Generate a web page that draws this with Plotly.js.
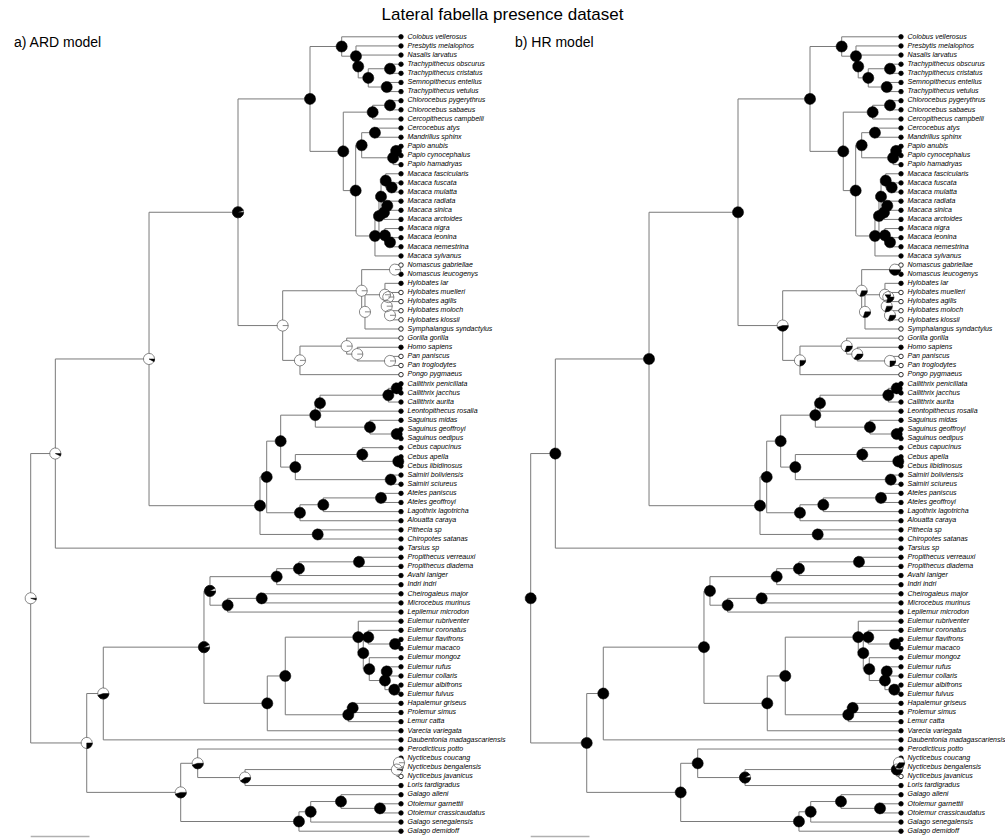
<!DOCTYPE html>
<html><head><meta charset="utf-8">
<script src="https://cdn.plot.ly/plotly-3.0.1.min.js"></script>
<style>html,body{margin:0;padding:0;background:#fff;}#chart{width:1005px;height:838px;}</style>
</head><body><div id="chart"></div>
<script>
// ---------------- DATA ----------------
const chartTitle = "Lateral fabella presence dataset";
const panelTitles = ["a) ARD model", "b) HR model"];

// Tree topology (Newick, internal node labels)
const cladeColobinae = "(Colobus_vellerosus,(Presbytis_melalophos,(Nasalis_larvatus,((Trachypithecus_obscurus,Trachypithecus_cristatus)TrOC,(Semnopithecus_entellus,Trachypithecus_vetulus)SeTV)Col4)Col3)Col2)Colob";
const cladeCercopithecini = "((Chlorocebus_pygerythrus,Chlorocebus_sabaeus)Chloro,Cercopithecus_campbelli)Cercini";
const cladePapionina = "((Cercocebus_atys,Mandrillus_sphinx)CeMa,((Papio_anubis,Papio_cynocephalus)PapAC,Papio_hamadryas)PapioR)Papina";
const cladeMacaca = "((((Macaca_fascicularis,(Macaca_fuscata,Macaca_mulatta)MacFM)MacF,((Macaca_radiata,Macaca_sinica)MacRS,Macaca_arctoides)MacRSA)MacU,(Macaca_nigra,(Macaca_leonina,Macaca_nemestrina)MacLN)MacL)Mac2,Macaca_sylvanus)Mac";
const cladeHominoidea = "(((Nomascus_gabriellae,Nomascus_leucogenys)Nomas,((Hylobates_lar,((Hylobates_muelleri,Hylobates_agilis)HylMA,(Hylobates_moloch,Hylobates_klossii)HylMK)HylX)HylR,Symphalangus_syndactylus)HylSy)Hylob,((Gorilla_gorilla,(Homo_sapiens,(Pan_paniscus,Pan_troglodytes)Pan)HoPa)Homnin,Pongo_pygmaeus)Hominid)Homoid";
const cladeCallCebus = "(((((Callithrix_penicillata,Callithrix_jacchus)CaPJ,Callithrix_aurita)Callx,Leontopithecus_rosalia)CalLe,(Saguinus_midas,(Saguinus_geoffroyi,Saguinus_oedipus)SaGO)Sagu)Calli,((Cebus_capucinus,(Cebus_apella,Cebus_libidinosus)CeAL)Cebus,(Saimiri_boliviensis,Saimiri_sciureus)Saim)Cebid)Callceb";
const cladeAtelidae = "(((Ateles_paniscus,Ateles_geoffroyi)Ateles,Lagothrix_lagotricha)AtLa,Alouatta_caraya)Atel";
const cladeIndriCheiro = "((((Propithecus_verreauxi,Propithecus_diadema)Prop,Avahi_laniger)PrAv,Indri_indri)Indr,((Cheirogaleus_major,Microcebus_murinus)Cheir,Lepilemur_microdon)ChLe)Lem3";
const cladeLemuridae = "(((Eulemur_rubriventer,((Eulemur_coronatus,(Eulemur_flavifrons,Eulemur_macaco)EuFM)Eul3,(Eulemur_mongoz,((Eulemur_rufus,Eulemur_collaris)EuRC,(Eulemur_albifrons,Eulemur_fulvus)EuAF)Eul5)Eul4)Eul2)Eul,((Hapalemur_griseus,Prolemur_simus)HaPr,Lemur_catta)LeHP)Lemid,Varecia_variegata)LeVa";
const cladeLorisiformes = "((Perodicticus_potto,(((Nycticebus_coucang,Nycticebus_bengalensis)NyCB,Nycticebus_javanicus)Nyct,Loris_tardigradus)NyLo)Lorid,(((Galago_alleni,(Otolemur_garnettii,Otolemur_crassicaudatus)Otol)Gal3,Galago_senegalensis)Gal2,Galago_demidoff)Galag)Loris";

const newick = "(((((" + cladeColobinae + ",(" + cladeCercopithecini + ",(" + cladePapionina + "," + cladeMacaca + ")Papini)Cercin)Cerco," +
  cladeHominoidea + ")Catar,((" + cladeCallCebus + "," + cladeAtelidae + ")Plat2,(Pithecia_sp,Chiropotes_satanas)Pith)Platy)Anthro,Tarsius_sp)Haplo," +
  "(((" + cladeIndriCheiro + "," + cladeLemuridae + ")Lem2,Daubentonia_madagascariensis)Lemf," + cladeLorisiformes + ")Strep)root;";

// Tips (top to bottom) and observed state (1 = present, 0 = absent)
const tipNames = ["Colobus vellerosus","Presbytis melalophos","Nasalis larvatus","Trachypithecus obscurus","Trachypithecus cristatus","Semnopithecus entellus","Trachypithecus vetulus","Chlorocebus pygerythrus","Chlorocebus sabaeus","Cercopithecus campbelli","Cercocebus atys","Mandrillus sphinx","Papio anubis","Papio cynocephalus","Papio hamadryas","Macaca fascicularis","Macaca fuscata","Macaca mulatta","Macaca radiata","Macaca sinica","Macaca arctoides","Macaca nigra","Macaca leonina","Macaca nemestrina","Macaca sylvanus","Nomascus gabriellae","Nomascus leucogenys","Hylobates lar","Hylobates muelleri","Hylobates agilis","Hylobates moloch","Hylobates klossii","Symphalangus syndactylus","Gorilla gorilla","Homo sapiens","Pan paniscus","Pan troglodytes","Pongo pygmaeus","Callithrix penicillata","Callithrix jacchus","Callithrix aurita","Leontopithecus rosalia","Saguinus midas","Saguinus geoffroyi","Saguinus oedipus","Cebus capucinus","Cebus apella","Cebus libidinosus","Saimiri boliviensis","Saimiri sciureus","Ateles paniscus","Ateles geoffroyi","Lagothrix lagotricha","Alouatta caraya","Pithecia sp","Chiropotes satanas","Tarsius sp","Propithecus verreauxi","Propithecus diadema","Avahi laniger","Indri indri","Cheirogaleus major","Microcebus murinus","Lepilemur microdon","Eulemur rubriventer","Eulemur coronatus","Eulemur flavifrons","Eulemur macaco","Eulemur mongoz","Eulemur rufus","Eulemur collaris","Eulemur albifrons","Eulemur fulvus","Hapalemur griseus","Prolemur simus","Lemur catta","Varecia variegata","Daubentonia madagascariensis","Perodicticus potto","Nycticebus coucang","Nycticebus bengalensis","Nycticebus javanicus","Loris tardigradus","Galago alleni","Otolemur garnettii","Otolemur crassicaudatus","Galago senegalensis","Galago demidoff"];
const tipState = [1,1,1,1,1,1,1,1,1,1,1,1,1,1,1,1,1,1,1,1,1,1,1,1,1,
  0,1,1,0,0,0,0,0,0,1,0,0,0,
  1,1,1,1,1,1,1,1,1,1,1,1,1,1,1,1,1,1,1,
  1,1,1,1,1,1,1,1,1,1,1,1,1,1,1,1,1,1,1,1,1,1,
  1,0,0,1,1,1,1,1,1,1];

// Internal nodes: depth from root (Myr) and probability of "absent" under each model
const treeHeight = 63;
const nodeLabels = ["root","Haplo","Anthro","Catar","Cerco","Colob","Col2","Col3","Col4","TrOC","SeTV","Cercin","Cercini","Chloro","Papini","Papina","CeMa","PapioR","PapAC","Mac","Mac2","MacU","MacF","MacFM","MacRSA","MacRS","MacL","MacLN","Homoid","Hylob","Nomas","HylSy","HylR","HylX","HylMA","HylMK","Hominid","Homnin","HoPa","Pan","Platy","Plat2","Callceb","Calli","CalLe","Callx","CaPJ","Sagu","SaGO","Cebid","Cebus","CeAL","Saim","Atel","AtLa","Ateles","Pith","Strep","Lemf","Lem2","Lem3","Indr","PrAv","Prop","ChLe","Cheir","LeVa","Lemid","Eul","Eul2","Eul3","EuFM","Eul4","Eul5","EuRC","EuAF","LeHP","HaPr","Loris","Lorid","NyLo","Nyct","NyCB","Galag","Gal2","Gal3","Otol"];
const nodeDepth = [0,4.19,20.13,35.27,47.52,52.91,55.34,55.72,57.43,61.13,60.57,53.18,58.18,61.13,55.29,56.31,58.57,61.66,62.17,58.57,59.25,59.6,60.4,61.42,60.1,60.67,60.27,61.13,42.87,56.31,61.98,56.87,60.27,60.57,60.84,61.13,45.81,53.76,55.56,61.13,39.01,40.15,42.53,48.42,49.22,60.84,62.27,57.72,62.27,45.02,56.41,62.54,61.25,45.81,49.78,59.6,48.83,9.53,12.35,29.48,30.5,41.85,45.64,55.85,33.51,39.3,40.25,43.31,55.73,56.58,57.43,61.98,57.6,60.27,60.57,61.86,54.03,54.78,25.52,28.41,36.46,62.3,62.66,45.64,47.64,52.79,59.43];
const ardAbsent = [0.95,0.93,0.92,0.05,0,0,0,0,0,0,0,0,0,0,0,0,0,0,0,0,0,0,0,0,0,0,0,0,1,1,1,1,1,1,1,1,1,1,1,1,0,0,0,0,0,0,0,0,0,0,0,0,0,0,0,0,0,0.75,0.55,0.07,0.08,0,0,0,0,0,0,0,0,0,0,0,0,0,0,0,0,0,0.55,0.55,0.6,0.97,1,0,0,0,0];
const hrAbsent  = [0,0,0,0,0,0,0,0,0,0,0,0,0,0,0,0,0,0,0,0,0,0,0,0,0,0,0,0,0.55,0.7,0.5,0.7,0.85,0.7,0.7,0.7,0.75,0.7,0.65,0.75,0,0,0,0,0,0,0,0,0,0,0,0,0,0,0,0,0,0,0,0,0,0,0,0,0,0,0,0,0,0,0,0,0,0,0,0,0,0,0,0,0.08,0.35,0.65,0,0,0,0];
const scaleBarLength = 10;

// ---------------- LAYOUT CONSTANTS ----------------
const W = 1005, H = 838;
const ROOT_PX = [30.7, 530.7], TIP_PX_LEFT = 401;
const TIP1_PX = 36.8, TIPN_PX = 831.2;
const PIE_R = 5.6;
const FONT = "Liberation Sans, Arial, Helvetica, sans-serif";
const LINE_COL = "#7a7a7a";

// ---------------- TREE ----------------
function parseNewick(s) {
  let i = 0;
  function node() {
    const n = {children: [], name: ""};
    if (s[i] === "(") {
      i++;
      n.children.push(node());
      while (s[i] === ",") { i++; n.children.push(node()); }
      i++;
    }
    let name = "";
    while (i < s.length && ",();".indexOf(s[i]) < 0) { name += s[i]; i++; }
    n.name = name.trim();
    return n;
  }
  return node();
}
const tree = parseNewick(newick);
const depthOf = {}, ardOf = {}, hrOf = {};
nodeLabels.forEach((l, i) => { depthOf[l] = nodeDepth[i]; ardOf[l] = ardAbsent[i]; hrOf[l] = hrAbsent[i]; });
const stateOf = {};
tipNames.forEach((n, i) => stateOf[n.replace(/ /g, "_")] = tipState[i]);

let tipIdx = 0;
const tips = [], internals = [];
(function lay(n) {
  if (!n.children.length) { tipIdx++; n.y = tipIdx; n.x = treeHeight; tips.push(n); return; }
  n.children.forEach(lay);
  n.x = depthOf[n.name];
  n.y = (n.children[0].y + n.children[n.children.length - 1].y) / 2;
  internals.push(n);
})(tree);

const segX = [], segY = [];
(function segs(n) {
  if (!n.children.length) return;
  segX.push(n.x, n.x, null); segY.push(n.children[0].y, n.children[n.children.length - 1].y, null);
  n.children.forEach(c => { segX.push(n.x, c.x, null); segY.push(c.y, c.y, null); segs(c); });
})(tree);

// scales
const kx = (TIP_PX_LEFT - ROOT_PX[0]) / treeHeight;
const ky = (TIPN_PX - TIP1_PX) / (tips.length - 1);
const rX = PIE_R / kx, rY = PIE_R / ky;
const yRange = [1 + (H - TIP1_PX) / ky, 1 - TIP1_PX / ky];

function arcPts(cx, cy, a0, a1, withCenter, xs, ys) {
  if (withCenter) { xs.push(cx); ys.push(cy); }
  const n = Math.max(2, Math.ceil((a1 - a0) / (2 * Math.PI) * 64));
  for (let k = 0; k <= n; k++) {
    const a = a0 + (a1 - a0) * k / n;
    xs.push(cx + rX * Math.cos(a)); ys.push(cy - rY * Math.sin(a));
  }
  xs.push(null); ys.push(null);
}

const traces = [];
const panels = [
  {xa: "x", ya: "y", probs: ardOf},
  {xa: "x2", ya: "y2", probs: hrOf}
];
panels.forEach(p => {
  traces.push({type: "scatter", mode: "lines", x: segX, y: segY, xaxis: p.xa, yaxis: p.ya,
    line: {color: LINE_COL, width: 1}, hoverinfo: "skip", showlegend: false, cliponaxis: false});
  // scale bar
  traces.push({type: "scatter", mode: "lines", x: [0, scaleBarLength], y: [1 + (H - 1.5 - TIP1_PX) / ky, 1 + (H - 1.5 - TIP1_PX) / ky],
    xaxis: p.xa, yaxis: p.ya, line: {color: "#b0b0b0", width: 1.5}, hoverinfo: "skip", showlegend: false, cliponaxis: false});
  // tips
  traces.push({type: "scatter", mode: "markers", x: tips.map(t => t.x), y: tips.map(t => t.y), xaxis: p.xa, yaxis: p.ya,
    marker: {size: 4.5, color: tips.map(t => stateOf[t.name] ? "#000" : "#fff"), line: {color: "#000", width: 0.8}},
    hoverinfo: "skip", showlegend: false, cliponaxis: false});
  traces.push({type: "scatter", mode: "text", x: tips.map(t => t.x + 6.5 / kx), y: tips.map(t => t.y), xaxis: p.xa, yaxis: p.ya,
    text: tips.map(t => t.name.replace(/_/g, " ")), textposition: "middle right",
    textfont: {family: FONT, size: 7, color: "#000", style: "italic"},
    hoverinfo: "skip", showlegend: false, cliponaxis: false});
  // pies
  const wx = [], wy = [], bx = [], by = [], lx = [], ly = [];
  internals.forEach(n => {
    const p0 = p.probs[n.name];
    if (p0 <= 0.001) { arcPts(n.x, n.y, 0, 2 * Math.PI, false, bx, by); return; }
    arcPts(n.x, n.y, 0, 2 * Math.PI, false, wx, wy);
    if (p0 >= 0.999) { lx.push(n.x, n.x + rX, null); ly.push(n.y, n.y, null); return; }
    arcPts(n.x, n.y, 2 * Math.PI * p0, 2 * Math.PI, true, bx, by);
    lx.push(n.x, n.x + rX, null); ly.push(n.y, n.y, null);
  });
  traces.push({type: "scatter", mode: "lines", x: wx, y: wy, xaxis: p.xa, yaxis: p.ya, fill: "toself", fillcolor: "#fff",
    line: {color: "#555", width: 0.7}, hoverinfo: "skip", showlegend: false, cliponaxis: false, connectgaps: false});
  traces.push({type: "scatter", mode: "lines", x: lx, y: ly, xaxis: p.xa, yaxis: p.ya,
    line: {color: "#555", width: 0.7}, hoverinfo: "skip", showlegend: false, cliponaxis: false});
  traces.push({type: "scatter", mode: "lines", x: bx, y: by, xaxis: p.xa, yaxis: p.ya, fill: "toself", fillcolor: "#000",
    line: {color: "#000", width: 0.5}, hoverinfo: "skip", showlegend: false, cliponaxis: false, connectgaps: false});
});

const half = W / 2;
const axisBase = {visible: false, showgrid: false, zeroline: false, fixedrange: true};
const layout = {
  width: W, height: H, margin: {l: 0, r: 0, t: 0, b: 0},
  paper_bgcolor: "#fff", plot_bgcolor: "rgba(0,0,0,0)", showlegend: false,
  title: {text: chartTitle, font: {family: FONT, size: 17, color: "#000"}, x: 0.5, xanchor: "center",
    y: 1 - 14 / H, yanchor: "middle", yref: "container"},
  xaxis: Object.assign({}, axisBase, {domain: [0, 0.5], range: [(0 - ROOT_PX[0]) / kx, (half - ROOT_PX[0]) / kx]}),
  xaxis2: Object.assign({}, axisBase, {domain: [0.5, 1], range: [(half - ROOT_PX[1]) / kx, (W - ROOT_PX[1]) / kx], anchor: "y2"}),
  yaxis: Object.assign({}, axisBase, {domain: [0, 1], range: yRange}),
  yaxis2: Object.assign({}, axisBase, {domain: [0, 1], range: yRange, anchor: "x2"}),
  annotations: [
    {text: panelTitles[0], xref: "paper", yref: "paper", x: 12 / W, y: 1 - 41.7 / H, xanchor: "left", yanchor: "middle",
      showarrow: false, font: {family: FONT, size: 14, color: "#000"}},
    {text: panelTitles[1], xref: "paper", yref: "paper", x: 512.7 / W, y: 1 - 41.7 / H, xanchor: "left", yanchor: "middle",
      showarrow: false, font: {family: FONT, size: 14, color: "#000"}}
  ]
};
Plotly.newPlot("chart", traces, layout, {displayModeBar: false, staticPlot: true});
</script></body></html>
